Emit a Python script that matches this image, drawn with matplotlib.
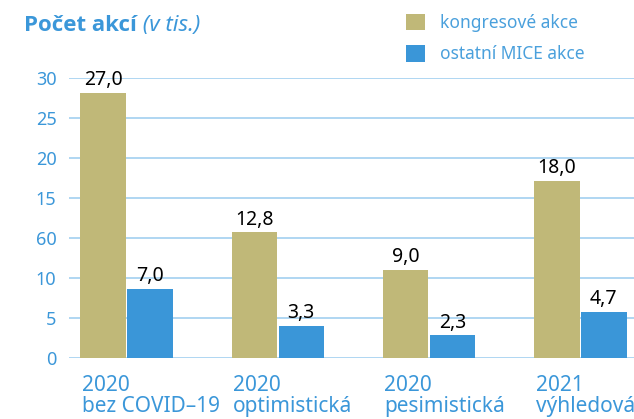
import numpy as np
import matplotlib
matplotlib.use("Agg")
import matplotlib.pyplot as plt
from matplotlib.patches import Patch
from matplotlib.transforms import blended_transform_factory

plt.rcParams['font.family'] = ['Noto Sans', 'DejaVu Sans']

# data
years = ["2020", "2020", "2020", "2021"]
scenarios = ["bez COVID\u201319", "optimistická", "pesimistická", "výhledová"]
kongres = [27.0, 12.8, 9.0, 18.0]
ostatni = [7.0, 3.3, 2.3, 4.7]
kongres_lbl = ["27,0", "12,8", "9,0", "18,0"]
ostatni_lbl = ["7,0", "3,3", "2,3", "4,7"]
# tick labels as printed in the source (including its odd "60")
ytick_labels = ["0", "5", "10", "60", "15", "20", "25", "30"]

olive = "#c0b878"
blue = "#3a96d8"
txt_blue = "#3b97d9"
grid_c = "#a9d3f1"

fig = plt.figure(figsize=(6.34, 4.19), dpi=100)
ax = fig.add_axes([69/634, 1 - 358/419, 1 - 69/634, 280/419])

x = np.arange(len(kongres))
w = 0.3
off = 0.155
b1 = ax.bar(x - off, kongres, w, color=olive, zorder=3)
b2 = ax.bar(x + off, ostatni, w, color=blue, zorder=3)

for rect, s in zip(b1, kongres_lbl):
    ax.annotate(s, (rect.get_x() + rect.get_width() / 2, rect.get_height()),
                xytext=(0, 2), textcoords="offset points", ha="center", va="bottom",
                fontsize=14, color="black", zorder=4)
for rect, s in zip(b2, ostatni_lbl):
    ax.annotate(s, (rect.get_x() + rect.get_width() / 2, rect.get_height()),
                xytext=(0, 2), textcoords="offset points", ha="center", va="bottom",
                fontsize=14, color="black", zorder=4)

# gridlines every 40 px, bars at ~9.82 px per unit
step = 40 / 9.82
ax.set_ylim(0, 7 * step)
ax.set_yticks(np.arange(8) * step)
ax.set_yticklabels(ytick_labels)
ax.set_xlim(-0.38, 3.354)
ax.set_xticks([])
ax.grid(axis="y", color=grid_c, linewidth=1.3, zorder=0)
ax.tick_params(axis="y", length=0, pad=9, labelsize=13, labelcolor=txt_blue)
for sp in ax.spines.values():
    sp.set_visible(False)

# category labels
tr = blended_transform_factory(ax.transData, ax.transAxes)
for i in range(len(years)):
    ax.text(i - off - w / 2 + 0.01, -0.06, years[i] + "\n" + scenarios[i],
            transform=tr, ha="left", va="top", fontsize=15, color=txt_blue,
            linespacing=1.02)

# title
t1 = fig.text(24/634, 1 - 31/419, "Počet akcí", fontsize=16, fontweight="bold",
              family="Open Sans", color=txt_blue, ha="left", va="baseline")
ax.annotate(" (v tis.)", xy=(1, 0), xycoords=t1, ha="left", va="bottom",
            fontsize=16, style="italic", color=txt_blue, annotation_clip=False)

handles = [Patch(facecolor=olive), Patch(facecolor=blue)]
fig.legend(handles, ["kongresové akce", "ostatní MICE akce"], loc="upper left",
           bbox_to_anchor=(390/634, 1 + 2/419), frameon=False, fontsize=12.5,
           labelcolor="#4aa0dc", handlelength=1.1, handleheight=1.1,
           handletextpad=0.9, labelspacing=0.75)

fig.savefig("out.png", dpi=100)
